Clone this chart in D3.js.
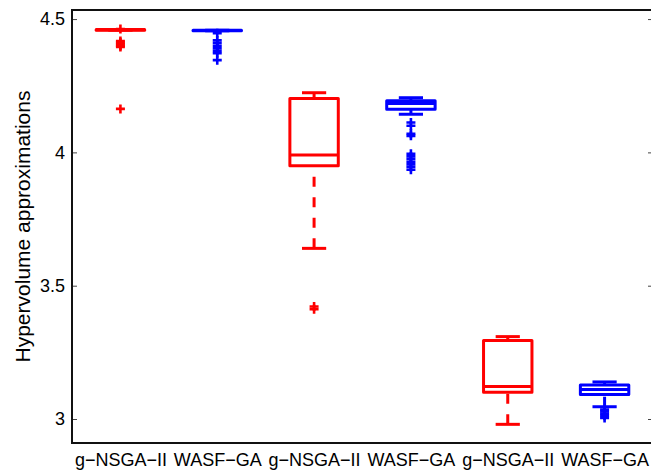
<!DOCTYPE html>
<html>
<head>
<meta charset="utf-8">
<script src="https://cdn.jsdelivr.net/npm/d3@7"></script>
<style>
body{margin:0;background:#fff}
text{font-family:"Liberation Sans",Arial,Helvetica,sans-serif}
</style>
</head>
<body>
<svg id="chart" width="651" height="472"></svg>
<script>
// box plot stats
var categories = ["g\u2212NSGA\u2212II","WASF\u2212GA","g\u2212NSGA\u2212II","WASF\u2212GA","g\u2212NSGA\u2212II","WASF\u2212GA"]
var lowWhisker  = [4.4585, 4.4560, 3.640, 4.143, 2.980, 3.046]
var q1          = [4.4585, 4.4560, 3.950, 4.162, 3.100, 3.092]
var median      = [4.4595, 4.4570, 3.990, 4.183, 3.122, 3.111]
var q3          = [4.4605, 4.4580, 4.2025, 4.194, 3.294, 3.1275]
var highWhisker = [4.4605, 4.4580, 4.2237, 4.205, 3.309, 3.139]
var outliers = [
    [4.463, 4.418, 4.412, 4.406, 4.400, 4.395, 4.163],
    [4.447, 4.420, 4.410, 4.400, 4.390, 4.380, 4.372, 4.346],
    [3.422, 3.412],
    [4.112, 4.100, 4.070, 4.062, 3.995, 3.985, 3.975, 3.965, 3.955, 3.945, 3.935],
    [],
    [3.035, 3.028, 3.020, 3.012, 3.004]
]
var yTicks = [3, 3.5, 4, 4.5]

var margin = {top: 10, right: 653, bottom: 443, left: 72}
var svg = d3.select("#chart")

var idx = d3.range(categories.length)
var x = d3.scalePoint()
    .domain(idx)
    .range([margin.left, margin.right])
    .padding(0.5)
var step = x.step()
var y = d3.scaleLinear()
    .domain([2.91, 4.534])
    .range([margin.bottom, margin.top])
var color = d3.scaleOrdinal([0, 1], ["#ff0000", "#0000ff"])

// axes
var yAxis = d3.axisLeft(y).tickValues(yTicks).tickSize(-5).tickPadding(7).tickFormat(d => String(d))
var gy = svg.append("g")
    .attr("transform", `translate(${margin.left},0)`)
    .call(yAxis)
gy.select(".domain").remove()
gy.selectAll("text").attr("font-size", 18).attr("fill", "#000").attr("font-family", '"Liberation Sans",Arial,sans-serif')
gy.selectAll("line").attr("stroke", "#444")

var gr = svg.append("g")
    .attr("transform", `translate(${margin.right},0)`)
    .call(d3.axisRight(y).tickValues(yTicks).tickSize(-5).tickFormat(""))
gr.select(".domain").remove()
gr.selectAll("line").attr("stroke", "#444")

var xAxis = d3.axisBottom(x).tickSize(0).tickPadding(10).tickFormat(i => categories[i])
var gx = svg.append("g")
    .attr("transform", `translate(0,${margin.bottom})`)
    .call(xAxis)
gx.select(".domain").remove()
gx.selectAll("text").attr("font-size", 18).attr("fill", "#000").attr("font-family", '"Liberation Sans",Arial,sans-serif')

svg.append("rect")
    .attr("x", margin.left)
    .attr("y", margin.top)
    .attr("width", margin.right - margin.left)
    .attr("height", margin.bottom - margin.top)
    .attr("fill", "none")
    .attr("stroke", "#111")
    .attr("stroke-width", 2)

svg.append("text")
    .attr("transform", `translate(30,${(margin.top + margin.bottom) / 2}) rotate(-90)`)
    .attr("text-anchor", "middle")
    .attr("font-size", 21)
    .text("Hypervolume approximations")

// boxes
var boxW = step * 0.5
var capW = step * 0.25
var g = svg.append("g")
    .attr("fill", "none")
    .attr("stroke-width", 3)
    .attr("stroke-linejoin", "round")

idx.forEach(function(i){
    var c = color(i % 2)
    var cx = x(i)
    var b = g.append("g").attr("stroke", c)
    // whiskers, dashed, drawn from the cap toward the box
    b.append("line")
        .attr("x1", cx).attr("x2", cx)
        .attr("y1", y(lowWhisker[i])).attr("y2", y(q1[i]))
        .attr("stroke-dasharray", "10,10.5")
    b.append("line")
        .attr("x1", cx).attr("x2", cx)
        .attr("y1", y(highWhisker[i])).attr("y2", y(q3[i]))
        .attr("stroke-dasharray", "10,10.5")
    // caps
    b.selectAll(".cap")
        .data([lowWhisker[i], highWhisker[i]])
        .join("line")
        .attr("class", "cap")
        .attr("x1", cx - capW / 2).attr("x2", cx + capW / 2)
        .attr("y1", d => y(d)).attr("y2", d => y(d))
    // box
    b.append("rect")
        .attr("x", cx - boxW / 2)
        .attr("y", y(q3[i]))
        .attr("width", boxW)
        .attr("height", Math.max(0.01, y(q1[i]) - y(q3[i])))
    b.append("line")
        .attr("x1", cx - boxW / 2).attr("x2", cx + boxW / 2)
        .attr("y1", y(median[i])).attr("y2", y(median[i]))
    // outliers as + markers
    b.selectAll(".out")
        .data(outliers[i])
        .join("path")
        .attr("class", "out")
        .attr("stroke-width", 2.6)
        .attr("d", d => `M${cx - 4.5},${y(d)}H${cx + 4.5}M${cx},${y(d) - 4.5}V${y(d) + 4.5}`)
})
</script>
</body>
</html>
